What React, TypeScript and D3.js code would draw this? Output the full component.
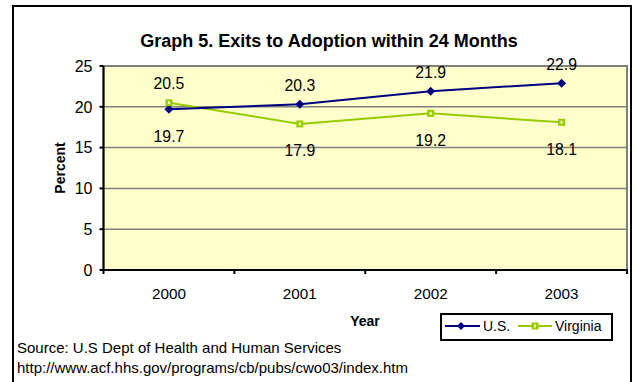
import React from "react";
import * as d3 from "d3";

const years = ["2000", "2001", "2002", "2003"];
const usValues = [19.7, 20.3, 21.9, 22.9];
const virginiaValues = [20.5, 17.9, 19.2, 18.1];
const usLabelSide = ["below", "above", "above", "above"];
const vaLabelSide = ["above", "below", "below", "below"];
const yTicks = [0, 5, 10, 15, 20, 25];

const FONT = "Liberation Sans, Arial, sans-serif";
const US_COLOR = "#000080";
const VA_COLOR = "#99CC00";

export default function App() {
  const W = 636, H = 382;
  const left = 103.5, right = 627, top = 66, bottom = 270;
  const x = d3.scaleBand().domain(years).range([left, right]).padding(0);
  const y = d3.scaleLinear().domain([0, 25]).range([bottom, top]);
  const cx = (d: string) => (x(d) as number) + x.bandwidth() / 2;
  const line = d3.line<number>().x((_, i) => cx(years[i])).y((v) => y(v));
  const tickXs = years.map((d) => x(d) as number).concat([right]);

  const diamond = (px: number, py: number, s = 4.5) =>
    `M${px},${py - s}L${px + s},${py}L${px},${py + s}L${px - s},${py}Z`;
  const square = (px: number, py: number, key: string) => (
    <g key={key}>
      <rect x={px - 3.5} y={py - 3.5} width={7} height={7} fill={VA_COLOR} />
      <rect x={px - 1} y={py - 1.5} width={2} height={3} fill="#f4ffd0" />
    </g>
  );

  const labelY = (v: number, side: string) => (side === "above" ? y(v) - 19 : y(v) + 27);

  return (
    <svg width={W} height={H} style={{ position: "absolute", left: 0, top: 0 }} fontFamily={FONT}>
      <rect x={0} y={0} width={W} height={H} fill="#fff" />
      <rect x={13} y={6} width={618} height={390} fill="#fff" stroke="#000" strokeWidth={2} />
      <text x={329} y={46.5} textAnchor="middle" fontWeight="bold" fontSize={18}>
        Graph 5. Exits to Adoption within 24 Months
      </text>
      <rect x={left} y={top} width={right - left} height={bottom - top} fill="#FFFFCC" stroke="#808080" strokeWidth={2} />
      {yTicks.filter((t) => t > 0 && t < 25).map((t) => (
        <line key={t} x1={left} x2={right} y1={y(t)} y2={y(t)} stroke="#808080" strokeWidth={1.5} />
      ))}
      <line x1={left} x2={left} y1={top} y2={bottom} stroke="#000" strokeWidth={2} />
      <line x1={left} x2={right + 1} y1={bottom} y2={bottom} stroke="#000" strokeWidth={2} />
      {yTicks.map((t) => (
        <g key={t}>
          <line x1={left - 4} x2={left} y1={y(t)} y2={y(t)} stroke="#000" strokeWidth={2} />
          <text x={92.5} y={y(t) + 5.7} textAnchor="end" fontSize={16}>{t}</text>
        </g>
      ))}
      {tickXs.map((tx, i) => (
        <line key={i} x1={tx} x2={tx} y1={bottom} y2={bottom + 4} stroke="#000" strokeWidth={2} />
      ))}
      {years.map((d) => (
        <text key={d} x={cx(d)} y={298.5} textAnchor="middle" fontSize={15.3}>{d}</text>
      ))}
      <text x={365} y={326} textAnchor="middle" fontWeight="bold" fontSize={14}>Year</text>
      <text transform={`translate(65,168) rotate(-90)`} textAnchor="middle" fontWeight="bold" fontSize={14}>Percent</text>

      <path d={line(virginiaValues) || ""} fill="none" stroke={VA_COLOR} strokeWidth={2} />
      <path d={line(usValues) || ""} fill="none" stroke={US_COLOR} strokeWidth={2} />
      {usValues.map((v, i) => (
        <path key={"u" + i} d={diamond(cx(years[i]), y(v))} fill={US_COLOR} />
      ))}
      {virginiaValues.map((v, i) => square(cx(years[i]), y(v), "v" + i))}

      {usValues.map((v, i) => (
        <text key={"ul" + i} x={cx(years[i])} y={labelY(v, usLabelSide[i]) + 5.5} textAnchor="middle" fontSize={15.8}>
          {v.toFixed(1)}
        </text>
      ))}
      {virginiaValues.map((v, i) => (
        <text key={"vl" + i} x={cx(years[i])} y={labelY(v, vaLabelSide[i]) + 5.5} textAnchor="middle" fontSize={15.8}>
          {v.toFixed(1)}
        </text>
      ))}

      <rect x={441} y={314} width={171} height={26} fill="#fff" stroke="#000" strokeWidth={2} />
      <line x1={445} x2={480} y1={326} y2={326} stroke={US_COLOR} strokeWidth={2} />
      <path d={diamond(461, 326, 4)} fill={US_COLOR} />
      <text x={483} y={331} fontSize={14}>U.S.</text>
      <line x1={518} x2={552} y1={326} y2={326} stroke={VA_COLOR} strokeWidth={2} />
      {square(535, 326, "lg")}
      <text x={555} y={331} fontSize={14}>Virginia</text>

      <text x={17} y={352.5} fontSize={15}>Source: U.S Dept of Health and Human Services</text>
      <text x={17} y={372.5} fontSize={15}>http://www.acf.hhs.gov/programs/cb/pubs/cwo03/index.htm</text>
    </svg>
  );
}
